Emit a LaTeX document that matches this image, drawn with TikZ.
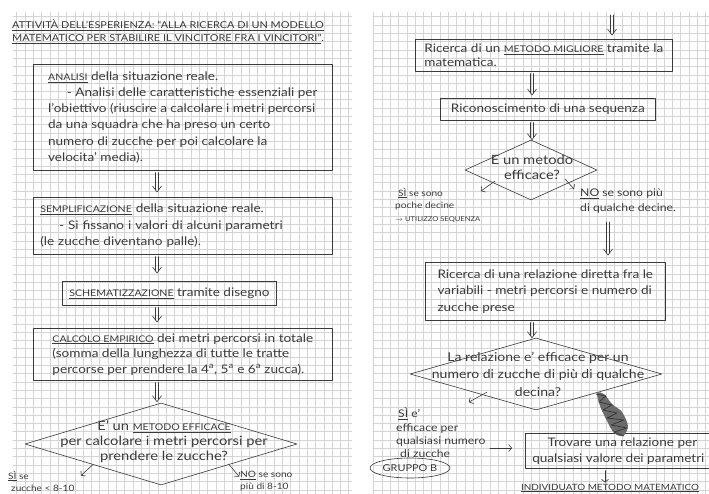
\documentclass[tikz,border=0pt]{standalone}
\usepackage{fontspec}
\setmainfont{Lato}[FakeStretch=1.15]
\usetikzlibrary{calc,shapes.geometric,arrows.meta}
\definecolor{inkc}{HTML}{3A3A3A}
\definecolor{gridc}{HTML}{D4D4D4}
\newcommand{\hand}[1][15.5]{\fontsize{11.8}{#1}\selectfont}
\newcommand{\kw}[1]{\underline{\fontsize{9.2}{10}\selectfont #1}}
% freccia doppia disegnata a mano
\newcommand{\flowarrow}[3][3]{%
  \path ($(#2)+(0,2)$) coordinate (fa-s) ($(#3)+(0,-#1)$) coordinate (fa-t);
  \draw[shaftline] ($(fa-s)+(-1.3,0)$) -- ($(fa-t)+(-1.3,-2)$);
  \draw[shaftline] ($(fa-s)+(1.3,0)$) -- ($(fa-t)+(1.3,-2)$);
  \draw[vhead] ($(fa-t)+(-4.5,-6)$) -- (fa-t) -- ($(fa-t)+(4.5,-6)$);
}
\tikzset{
  gridline/.style={draw=gridc, line width=0.35pt, step=8.3pt},
  stepbox/.style={draw=inkc, line width=0.6pt, text=inkc, font=\hand, align=left, anchor=north west, inner xsep=7pt, inner ysep=2pt},
  decision/.style={diamond, draw=inkc, line width=0.6pt, inner sep=0pt},
  note/.style={text=inkc, font=\hand, align=left, inner sep=0pt},
  titletext/.style={text=inkc, font=\fontsize{9.5}{14}\selectfont, inner sep=0pt, anchor=west},
  shaftline/.style={draw=inkc, line width=0.55pt},
  vhead/.style={draw=inkc, line width=0.6pt},
  sarrow/.style={draw=inkc, line width=0.6pt, -{Straight Barb[length=3pt,width=7pt]}},
}
\begin{document}
\begin{tikzpicture}[x=1pt,y=-1pt,line cap=round,line join=round]
\useasboundingbox (0,0) rectangle (709,494);
\fill[white] (0,0) rectangle (709,494);
% quadretti delle due pagine
\draw[gridline] (13,494) grid (352,12);
\draw[gridline] (373,494) grid (709,12);

% ---- pagina sinistra ----
\node[titletext] (tit1) at (12,25) {\underline{ATTIVITÀ DELL'ESPERIENZA: ``ALLA RICERCA DI UN MODELLO}};
\node[titletext] (tit2) at (12,39) {\underline{MATEMATICO PER STABILIRE IL VINCITORE FRA I VINCITORI''}.};

\node[stepbox, minimum width=299pt, minimum height=106pt, font={\hand[16.2]}] (analisi) at (33,64)
  {\kw{ANALISI} della situazione reale.\\
   \hspace*{1.6em}- Analisi delle caratteristiche essenziali per\\
   l'obiettivo (riuscire a calcolare i metri percorsi\\
   da una squadra che ha preso un certo\\
   numero di zucche per poi calcolare la\\
   velocita' media).};
\node[stepbox, text width=285pt, minimum height=57pt, font={\hand[16.5]}] (sempl) at (33,197)
  {\kw{SEMPLIFICAZIONE} della situazione reale.\\
   \hspace*{1.6em}- Si fissano i valori di alcuni parametri\\
   (le zucche diventano palle).};
\node[stepbox, align=center, minimum width=200pt, minimum height=24pt] (schema) at (62,281)
  {\kw{SCHEMATIZZAZIONE} tramite disegno};
\node[stepbox, minimum width=299pt, minimum height=52pt] (calcolo) at (33,328)
  {\kw{CALCOLO EMPIRICO} dei metri percorsi in totale\\
   (somma della lunghezza di tutte le tratte\\
   percorse per prendere la 4\textsuperscript{a}, 5\textsuperscript{a} e 6\textsuperscript{a} zucca).};
\node[decision, minimum width=272pt, minimum height=82pt] (dec1) at (161,444) {};
\node[note, align=center, font={\fontsize{12.8}{15}\selectfont}] (dec1t) at (164,442)
  {E' un \kw{METODO EFFICACE}\\ per calcolare i metri percorsi per\\ prendere le zucche?};
\node[note, anchor=west, font=\fontsize{8.8}{12}\selectfont] (si1) at (8,481) {\underline{SÌ} se\\ \hspace*{3pt}zucche < 8-10};
\node[note, anchor=west, font=\fontsize{8.8}{12}\selectfont] (no1) at (240,481) {\underline{NO} se sono\\ più di 8-10};

\coordinate (lx) at (157,0);
\flowarrow[5]{analisi.south -| lx}{sempl.north -| lx}
\flowarrow[8]{sempl.south -| lx}{schema.north -| lx}
\flowarrow[6]{schema.south -| lx}{calcolo.north -| lx}
\flowarrow[1]{calcolo.south -| lx}{dec1.north -| lx}
\draw[sarrow] (dec1.south west) -- ++(-12,11);
\draw[sarrow] (dec1.south east) -- ++(10,12);

% ---- pagina destra ----
\coordinate (rtop) at (612,13);
\node[stepbox, minimum width=257pt, minimum height=32pt, font={\hand[14]}] (migliore) at (415,39)
  {Ricerca di un \kw{METODO MIGLIORE} tramite la\\ matematica.};
\node[stepbox, align=center, minimum width=215pt, minimum height=22pt] (sequenza) at (440,98)
  {Riconoscimento di una sequenza};
\node[decision, minimum width=132pt, minimum height=60pt] (dec2) at (531,170) {};
\node[note, align=center, font={\fontsize{12.8}{15}\selectfont}] (dec2t) at (532,167) {E un metodo\\ efficace?};
\node[note, anchor=west, font=\fontsize{8.8}{12.5}\selectfont] (si2) at (395,205)
  {\hspace*{3pt}\underline{SÌ} se sono\\ poche decine\\ {\fontsize{6.6}{9}\selectfont$\rightarrow$ UTILIZZO SEQUENZA}};
\node[note, anchor=west, font={\fontsize{10.6}{15}\selectfont}] (no2) at (580,201) {\underline{NO} se sono più\\ di qualche decine.};
\node[stepbox, minimum width=240pt, minimum height=58pt, font={\hand[16.5]}] (relazione) at (425,262)
  {Ricerca di una relazione diretta fra le\\ variabili - metri percorsi e numero di\\ zucche prese};
\node[decision, minimum width=252pt, minimum height=72pt] (dec3) at (536,374) {};
\node[note, align=center, font={\fontsize{12.2}{17.5}\selectfont}] (dec3t) at (538,374)
  {La relazione e' efficace per un\\ numero di zucche di più di qualche\\ decina?};
\node[note, anchor=west, font={\fontsize{10.6}{13.3}\selectfont}] (si3) at (396,433)
  {\hspace*{2pt}\underline{SÌ} e'\\ efficace per\\ qualsiasi numero\\ \hspace*{4pt}di zucche};
\node[stepbox, align=center, minimum width=177pt, minimum height=35pt, font={\hand[16]}] (trovare) at (525,433)
  {\hspace*{8pt}Trovare una relazione per\\ qualsiasi valore dei parametri};
\node[note, font=\fontsize{8.6}{10}\selectfont] (fine) at (610,488) {\underline{INDIVIDUATO METODO MATEMATICO}};
\node[ellipse, draw=inkc, line width=0.6pt, minimum width=62pt, minimum height=20pt, inner sep=1pt, text=inkc, font=\fontsize{9.5}{10}\selectfont] (gruppo) at (410,468) {GRUPPO B};

\coordinate (rx) at (532,0);
\coordinate (nx) at (608,220);
\coordinate (fx) at (605,0);
\coordinate (sia) at (490,448);
\flowarrow[4]{rtop}{migliore.north -| rtop}
\flowarrow[3]{migliore.south -| rx}{sequenza.north -| rx}
\flowarrow[0]{sequenza.south -| rx}{dec2.north -| rx}
\flowarrow[7]{nx}{relazione.north -| nx}
\flowarrow[0]{relazione.south -| rx}{dec3.north -| rx}
\draw[sarrow] ($(dec2.south west)+(-3,-4)$) -- ++(-14,10);
\draw[sarrow] ($(dec2.south east)+(1,-6)$) -- ++(9,10);
\draw[sarrow] ($(dec3.south west)+(14,0)$) -- ++(-18,10);
\draw[sarrow, shorten >=13pt] (sia) -- (sia -| trovare.west);
\draw[sarrow, shorten <=2pt, shorten >=1pt] (trovare.south -| fx) -- (fine.north -| fx);
% freccia cancellata
\fill[inkc!75] plot[smooth cycle] coordinates {(597,393) (604,394) (612,404) (622,412) (628,426) (623,436) (614,433) (607,421) (600,406)};
\draw[inkc, line width=0.8pt] (596,394) -- (606,396) -- (599,402) -- (612,405) -- (603,410) -- (617,413) -- (607,418) -- (624,420) -- (611,425) -- (627,428) -- (614,432) -- (624,436);
\end{tikzpicture}
\end{document}
